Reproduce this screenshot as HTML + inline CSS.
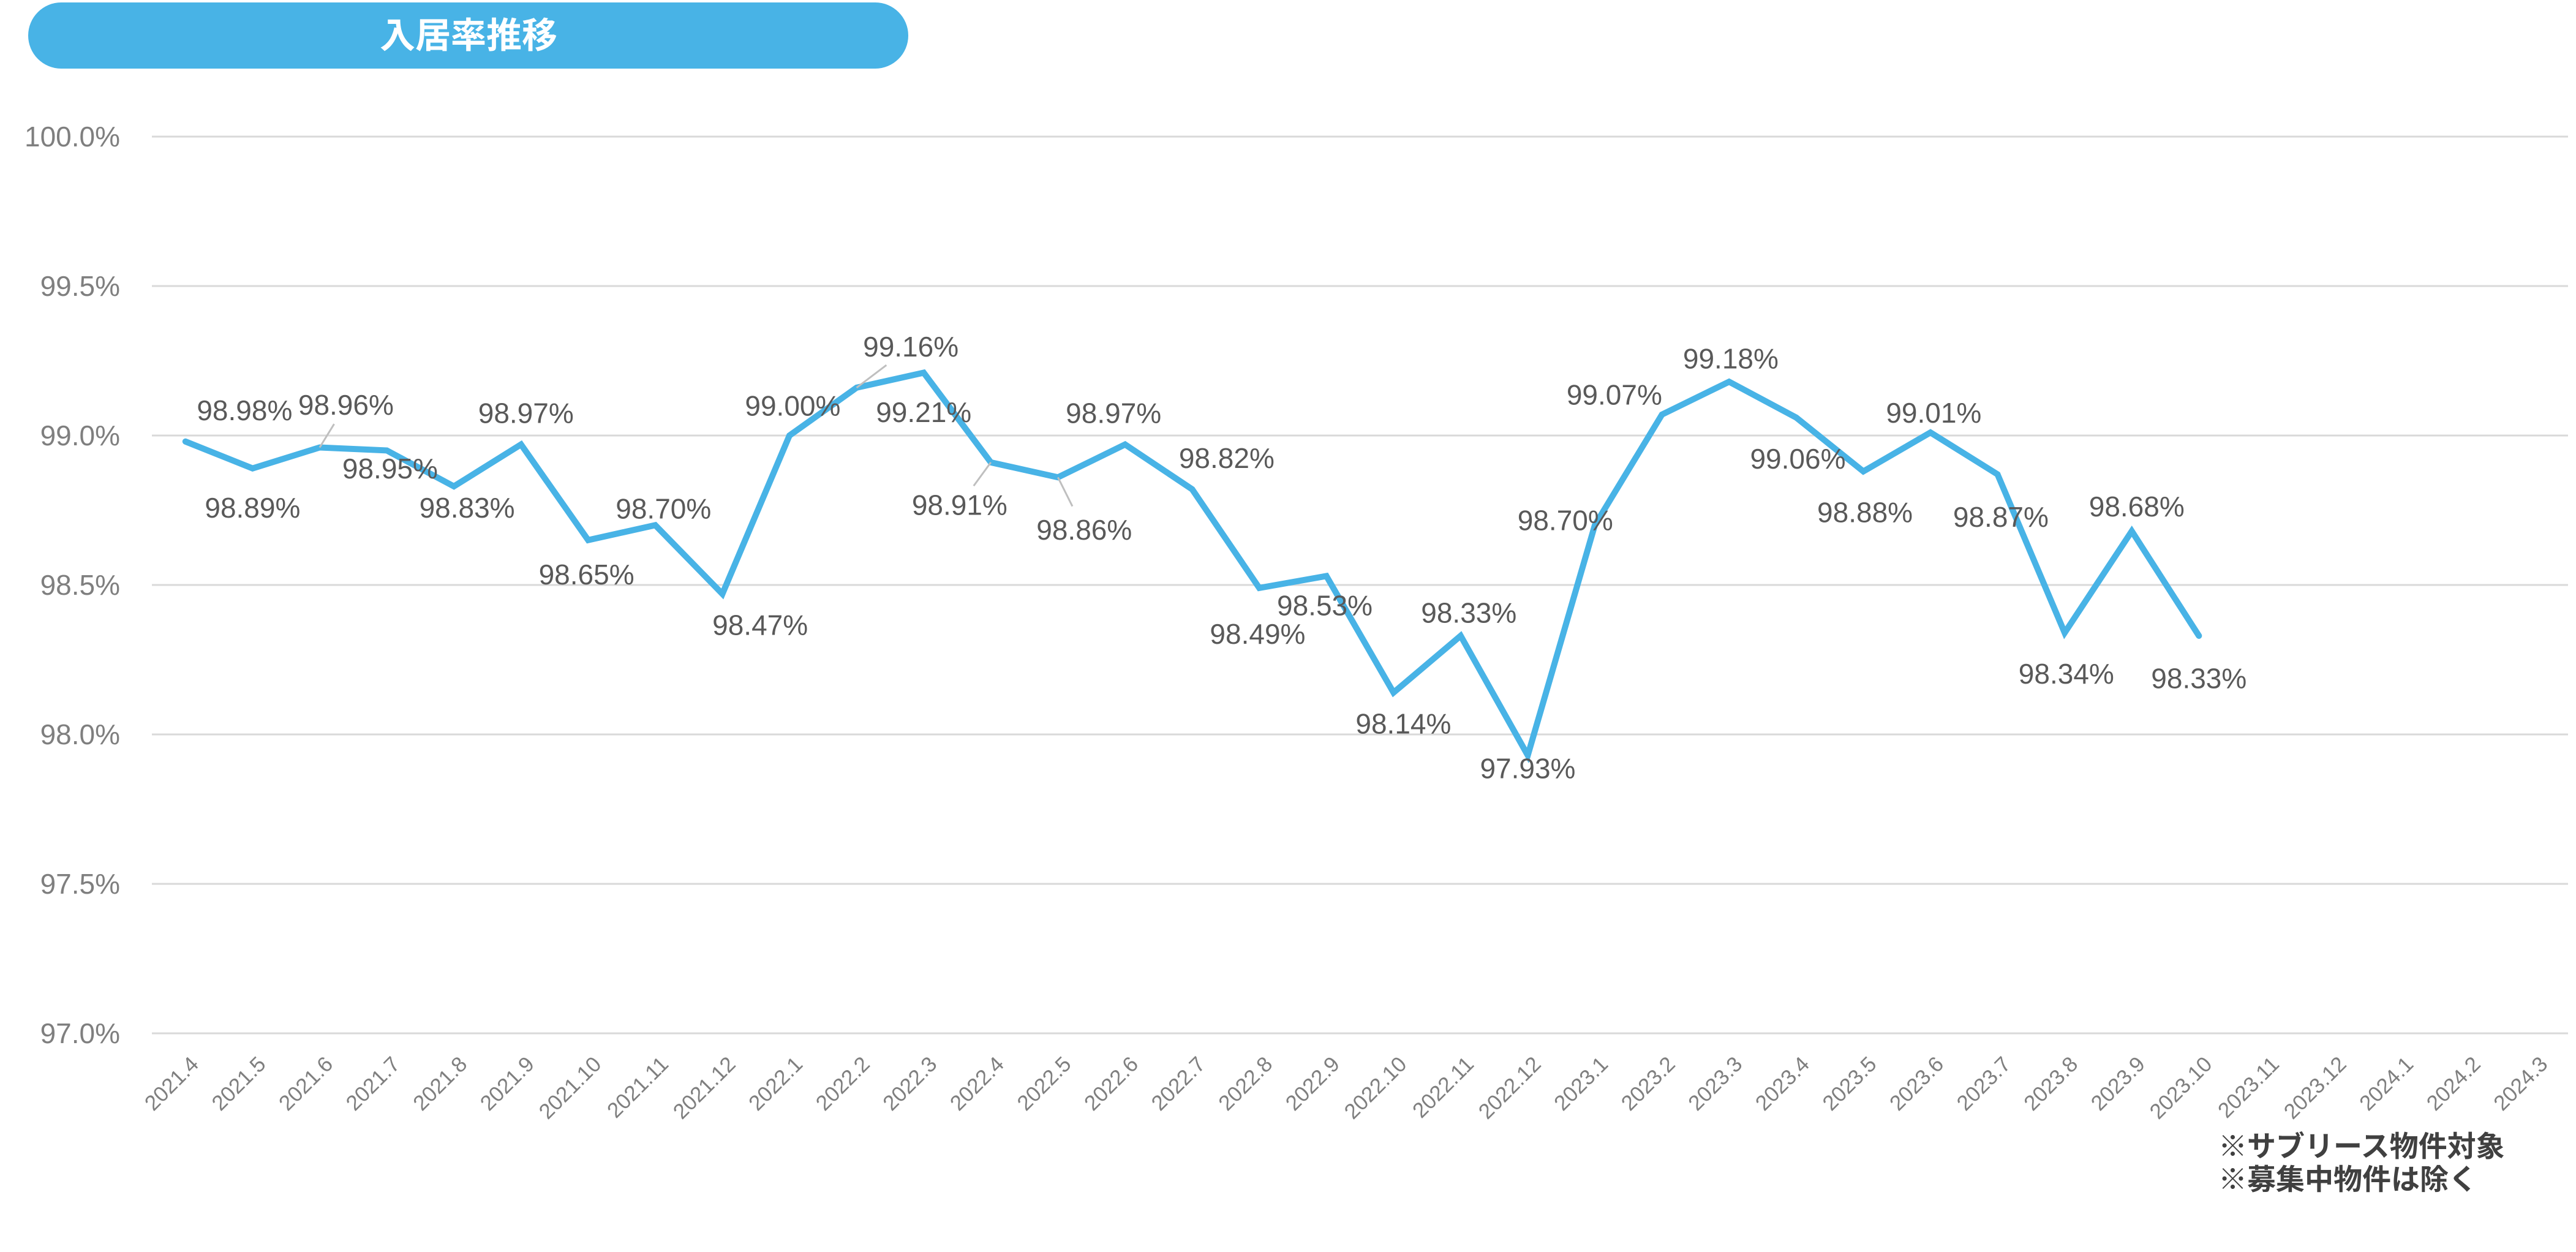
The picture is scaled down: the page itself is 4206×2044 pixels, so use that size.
<!DOCTYPE html>
<html><head><meta charset="utf-8"><style>
html,body{margin:0;padding:0;background:#fff;}
svg{display:block;}
text{font-family:"Liberation Sans","Noto Sans CJK JP",sans-serif;}
</style></head><body>
<svg id="chart" width="4206" height="2044" viewBox="0 0 4206 2044" xmlns="http://www.w3.org/2000/svg">
<rect x="46" y="4" width="1437" height="108" rx="54" fill="#48b3e6"/>
<text x="765" y="78" text-anchor="middle" font-size="58" font-weight="bold" fill="#fff">入居率推移</text>
<g id="grid"></g><g id="xlabels"></g><g id="series"></g><g id="dlabels"></g>
<text x="3622" y="1888" font-size="47" font-weight="bold" fill="#404040">※サブリース物件対象</text>
<text x="3622" y="1942" font-size="47" font-weight="bold" fill="#404040">※募集中物件は除く</text>
</svg>
<script>
const categories=["2021.4","2021.5","2021.6","2021.7","2021.8","2021.9","2021.10","2021.11","2021.12","2022.1","2022.2","2022.3","2022.4","2022.5","2022.6","2022.7","2022.8","2022.9","2022.10","2022.11","2022.12","2023.1","2023.2","2023.3","2023.4","2023.5","2023.6","2023.7","2023.8","2023.9","2023.10","2023.11","2023.12","2024.1","2024.2","2024.3"];
const occupancy=[98.98,98.89,98.96,98.95,98.83,98.97,98.65,98.70,98.47,99.00,99.16,99.21,98.91,98.86,98.97,98.82,98.49,98.53,98.14,98.33,97.93,98.70,99.07,99.18,99.06,98.88,99.01,98.87,98.34,98.68,98.33];
const yTicks=[97.0,97.5,98.0,98.5,99.0,99.5,100.0];
const labelDx=[36,0,16,2,8,3,-1,5,23,2,33,0,-19,16,-7,21,-1,-1,6,5,0,-18,-29,1,1,1,2,2,1,3,0];
const labelDy=[-19,24,-26,11,13,-19,21,-10,19,-18,-25,24,26,32,-19,-19,28,18,19,-14,8,-3,-12,-14,25,25,-12,26,25,-15,26];
const NS="http://www.w3.org/2000/svg";
const L=248,R=4193,T=223,B=1687,YMIN=97,YMAX=100;
const band=(R-L)/categories.length;
function xs(i){return L+band*(i+0.5);}
function ys(v){return B-(v-YMIN)/(YMAX-YMIN)*(B-T);}
function mk(tag,attrs,parent){const e=document.createElementNS(NS,tag);for(const k in attrs)e.setAttribute(k,attrs[k]);parent.appendChild(e);return e;}
const grid=document.getElementById('grid');
yTicks.forEach(t=>{
  const ln=mk('line',{x1:L,x2:R,y1:ys(t),y2:ys(t),stroke:'#d9d9d9','stroke-width':3},grid);
  
  
  const tx=mk('text',{x:196,y:ys(t)+16,'text-anchor':'end','font-size':46,fill:'#7f7f7f'},grid);
  tx.textContent=t.toFixed(1)+'%';
  
  
});
const xl=document.getElementById('xlabels');
categories.forEach((c,i)=>{
  const x=xs(i)+6,y=1722;
  const tx=mk('text',{x:x,y:y,'text-anchor':'end','font-size':35,fill:'#7f7f7f',transform:`rotate(-45 ${x} ${y})`,'dominant-baseline':'hanging'},xl);
  tx.textContent=c;
  
  
});
const s=document.getElementById('series');
const pts=occupancy.map((v,i)=>xs(i).toFixed(1)+','+ys(v).toFixed(1)).join(' ');
const pl=mk('polyline',{points:pts,fill:'none',stroke:'#48b3e6','stroke-width':10,'stroke-linejoin':'miter','stroke-linecap':'round'},s);


const K=2.682;
const dl=document.getElementById('dlabels');
[2,10,12,13].forEach(i=>{
  const x=xs(i),y=ys(occupancy[i]);
  const lx=x+labelDx[i]*K*0.55,ly=y+labelDy[i]*K*0.55;
  const ln=mk('line',{x1:x,y1:y,x2:lx,y2:ly,stroke:'#bfbfbf','stroke-width':3},dl);
  
  
});
occupancy.forEach((v,i)=>{
  const x=xs(i)+labelDx[i]*K,y=ys(v)+labelDy[i]*K+16;
  const tx=mk('text',{x:x,y:y,'text-anchor':'middle','font-size':46,fill:'#595959'},dl);
  tx.textContent=v.toFixed(2)+'%';
  
  
});
</script>
</body></html>
